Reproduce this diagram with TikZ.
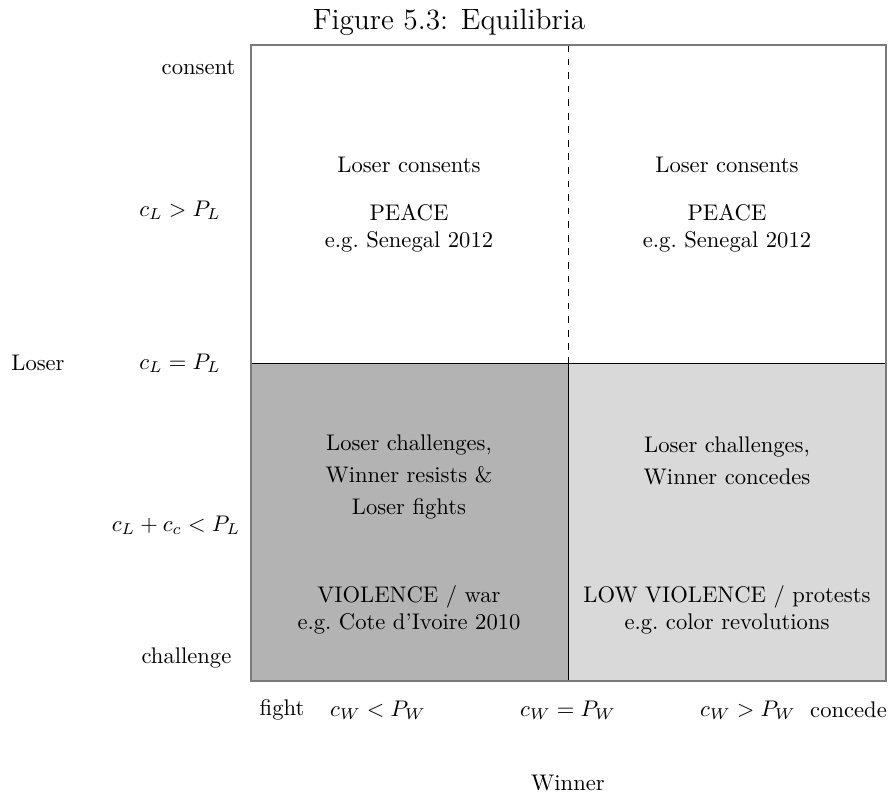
\documentclass[tikz,border=0pt]{standalone}
\usepackage{amsmath,amssymb}
\usepackage{tikz}
\usetikzlibrary{positioning}
\definecolor{darkcell}{HTML}{B3B3B3}
\definecolor{lightcell}{HTML}{D9D9D9}
\definecolor{frame}{HTML}{7A7A7A}
\tikzset{
  lab/.style={font=\normalsize, inner sep=1pt},
  cell/.style={font=\normalsize, align=center, inner sep=1pt},
}

\begin{document}
\begin{tikzpicture}[x=0.4425pt, y=-0.4425pt]
    \useasboundingbox (0,0) rectangle (889,797);
    \coordinate (tl) at (251,45);
    \coordinate (br) at (886,681);
    \coordinate (mt) at (568,45);
    \coordinate (mm) at (568,363);
    \coordinate (mb) at (568,681);
    \coordinate (lm) at (251,363);
    \coordinate (rm) at (886,363);
    % shaded cells
    \fill[darkcell] (lm) rectangle (mb);
    \fill[lightcell] (mm) rectangle (br);
    \draw (lm) -- (rm);
    \draw (mm) -- (mb);
    \draw[dashed] (mt) -- (mm);
    \draw[frame, line width=0.7pt] (tl) rectangle (br);
    % title
    \node[font=\fontsize{13}{15}\selectfont] (title) at (449,22) {Figure 5.3: Equilibria};
    % loser axis
    \node[lab, anchor=east] (consent) at (238,68) {consent};
    \node[lab] (cgt) at (180,210) {$c_L > P_L$};
    \node[lab] (ceq) at (180,363) {$c_L = P_L$};
    \node[lab] (clt) at (176,525) {$c_L + c_c < P_L$};
    \node[lab, anchor=east] (challenge) at (234,658) {challenge};
    \node[lab] (loser) at (38,363) {Loser};
    % winner axis
    \node[lab] (fight) at (282,710) {fight};
    \node[lab] (wlt) at (378,710) {$c_W < P_W$};
    \node[lab] (weq) at (568,710) {$c_W = P_W$};
    \node[lab] (wgt) at (748,710) {$c_W > P_W$};
    \node[lab, anchor=east] (concede) at (889.5,710) {concede};
    \node[lab] (winner) at (568,783) {Winner};
    % cells
    \node[cell] (c1) at (409,165) {Loser consents};
    \node[cell] (p1) at (409,228) {PEACE\\ e.g.\ Senegal 2012};
    \node[cell] (c2) at (727,165) {Loser consents};
    \node[cell] (p2) at (727,228) {PEACE\\ e.g.\ Senegal 2012};
    \node[cell] (c3) at (409,477) {Loser challenges,\\[2pt] Winner resists \&\\[2pt] Loser fights};
    \node[cell] (v3) at (409,610) {VIOLENCE / war\\ e.g.\ Cote d'Ivoire 2010};
    \node[cell] (c4) at (727,461) {Loser challenges,\\[2pt] Winner concedes};
    \node[cell] (v4) at (727,610) {LOW VIOLENCE / protests\\ e.g.\ color revolutions};
  \end{tikzpicture}
\end{document}
